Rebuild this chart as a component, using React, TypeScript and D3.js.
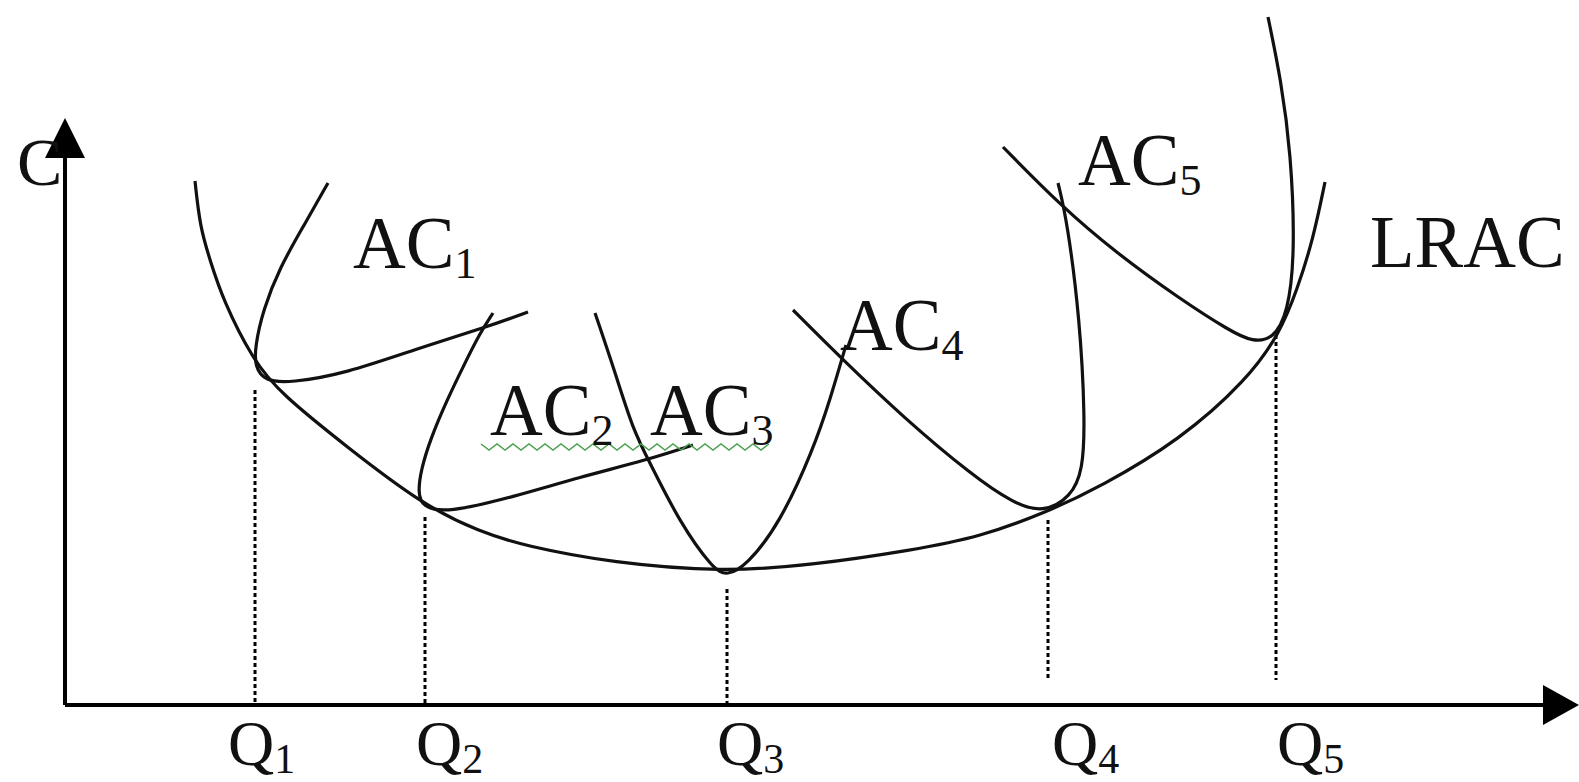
import React from "react";
import * as d3 from "d3";

// Quantities on the horizontal axis (tick labels and their positions)
const qLabels = ["1", "2", "3", "4", "5"];
const qValues = [19.0, 36.0, 66.2, 98.3, 121.1];
const qLabelX = [16.3, 35.1, 65.2, 98.7, 121.2];
// top of each dotted guide (cost) and where it stops near the axis
const qGuideTop = [31.5, 18.8, 11.6, 18.5, 37.0];
const qGuideBottom = [0, 0, 0, 2.5, 2.5];

// Long run average cost curve [quantity, cost]
const lracQ = [13.0, 13.5, 14.5, 15.8, 18.8, 21.5, 28.2, 35.8, 41.5, 46.0, 54.8, 65.8, 74.8, 84.8, 91.5, 98.2, 103.5, 111.5, 118.2, 121.5, 123.2, 124.8, 126.0];
const lracC = [52.4, 47.8, 44.5, 40.5, 34.5, 31.2, 25.8, 20.0, 17.3, 15.9, 14.2, 13.3, 14.0, 15.5, 16.8, 19.3, 21.8, 26.5, 32.5, 37.2, 41.5, 46.5, 52.3];

// Short run average cost curves
const ac1Q = [26.3, 23.8, 21.5, 19.8, 19.0, 19.0, 20.0, 22.5, 28.2, 34.8, 42.2, 46.3];
const ac1C = [52.2, 47.8, 43.8, 39.5, 35.8, 33.8, 32.4, 32.2, 33.2, 35.5, 37.8, 39.3];

const ac2Q = [42.8, 41.5, 39.8, 38.2, 36.5, 35.6, 35.3, 35.7, 38.2, 44.8, 51.5, 58.2, 62.8];
const ac2C = [39.2, 37.2, 33.8, 30.5, 26.5, 23.5, 21.3, 19.8, 19.2, 20.8, 22.8, 24.5, 26.0];

const ac3Q = [53.0, 55.0, 56.8, 58.5, 61.5, 64.8, 66.2, 68.2, 71.5, 74.8, 76.5, 78.1];
const ac3C = [39.2, 33.3, 27.5, 24.2, 18.2, 13.6, 12.9, 14.0, 18.2, 25.5, 30.5, 36.0];

const ac4Q = [72.8, 77.7, 83.9, 90.8, 94.8, 97.8, 100.6, 101.8, 102.0, 101.5, 100.2, 99.3];
const ac4C = [39.5, 34.6, 28.7, 22.9, 20.2, 19.2, 20.8, 23.5, 28.5, 38.5, 48.5, 52.2];

const ac5Q = [93.8, 99.5, 105.0, 111.5, 116.5, 118.8, 120.8, 122.3, 123.0, 122.6, 121.6, 120.3];
const ac5C = [55.8, 50.0, 45.3, 40.6, 37.4, 36.3, 36.6, 39.2, 45.2, 55.2, 62.5, 68.8];

// Curve labels
const curveNames = ["AC", "AC", "AC", "AC", "AC", "LRAC"];
const curveSubs = ["1", "2", "3", "4", "5", ""];
const curveLabelQ = [28.8, 42.5, 58.5, 77.5, 101.3, 130.5];
const curveLabelC = [43.7, 27.0, 27.0, 35.5, 52.0, 43.8];

const W = 1579;
const H = 782;
const serif = "'Liberation Serif', 'Times New Roman', serif";

const zip = (qs: number[], cs: number[]) => qs.map((q, i) => [q, cs[i]] as [number, number]);

export default function App() {
  const x = d3.scaleLinear().domain([0, 150]).range([65, 1565]);
  const y = d3.scaleLinear().domain([0, 60]).range([705, 105]);

  // smooth through the hand-read points
  const line = d3
    .line<[number, number]>()
    .x((d) => x(d[0]))
    .y((d) => y(d[1]))
    .curve(d3.curveBasis);

  const curves = [
    zip(lracQ, lracC),
    zip(ac1Q, ac1C),
    zip(ac2Q, ac2C),
    zip(ac3Q, ac3C),
    zip(ac4Q, ac4C),
    zip(ac5Q, ac5C),
  ];

  const x0 = x(0);
  const y0 = y(0);
  const yTop = y(58.7);
  const xEnd = x(151.4);

  // spell-check squiggle under "AC2 AC3"
  const wave = d3.range(0, 37).map((i) => [x(41.6) + i * 8, y(25.8) + (i % 2 ? 3 : -3)] as [number, number]);

  return (
    <svg
      width={W}
      height={H}
      style={{ position: "absolute", left: 0, top: 0, background: "#fff" }}
    >
      {/* axes */}
      <line x1={x0} y1={y0} x2={x0} y2={yTop + 30} stroke="#000" strokeWidth={4} />
      <polygon points={`${x0},${yTop} ${x0 - 20},${yTop + 40} ${x0 + 20},${yTop + 40}`} fill="#000" />
      <line x1={x0} y1={y0} x2={xEnd - 30} y2={y0} stroke="#000" strokeWidth={4} />
      <polygon points={`${xEnd},${y0} ${xEnd - 36},${y0 - 20} ${xEnd - 36},${y0 + 20}`} fill="#000" />

      {/* dotted guides */}
      {qValues.map((q, i) => (
        <line
          key={"g" + i}
          x1={x(q)}
          x2={x(q)}
          y1={y(qGuideTop[i])}
          y2={y(qGuideBottom[i])}
          stroke="#000"
          strokeWidth={3}
          strokeDasharray="4 3"
        />
      ))}

      {/* cost curves */}
      {curves.map((c, i) => (
        <path key={"c" + i} d={line(c) ?? ""} fill="none" stroke="#111" strokeWidth={3.2} />
      ))}

      <path
        d={d3.line().curve(d3.curveLinear)(wave) ?? ""}
        fill="none"
        stroke="#4f9f4f"
        strokeWidth={1.5}
      />

      {/* labels */}
      <text x={x(-4.8)} y={y(52)} fontFamily={serif} fontSize={68} fill="#111">
        C
      </text>
      {curveNames.map((n, i) => (
        <text
          key={"l" + i}
          x={x(curveLabelQ[i])}
          y={y(curveLabelC[i])}
          fontFamily={serif}
          fontSize={73}
          fill="#111"
        >
          {n}
          {curveSubs[i] && (
            <tspan fontSize={44} dy={10}>
              {curveSubs[i]}
            </tspan>
          )}
        </text>
      ))}
      {qLabels.map((s, i) => (
        <text key={"q" + i} x={x(qLabelX[i])} y={765} fontFamily={serif} fontSize={64} fill="#111">
          Q
          <tspan fontSize={42} dy={8}>
            {s}
          </tspan>
        </text>
      ))}
    </svg>
  );
}
